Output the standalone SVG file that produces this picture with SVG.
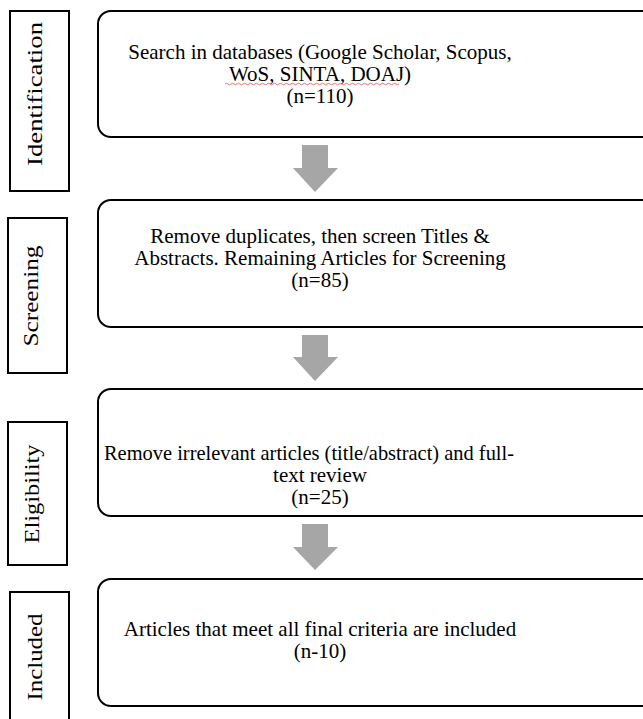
<svg xmlns="http://www.w3.org/2000/svg" width="643" height="719" viewBox="0 0 643 719" font-family="Liberation Serif, Times New Roman, serif">
<style>
.stage{fill:#fff;stroke:#000;stroke-width:2}
.box{fill:#fff;stroke:#000;stroke-width:2}
text{font-family:"Liberation Serif",serif;font-size:21px;fill:#000;text-anchor:middle}
.arr{fill:#a6a6a6}
</style>
<rect width="643" height="719" fill="#fff"/>
<g id="stage-identification">
<rect class="stage" x="10" y="11" width="59" height="180"/>
<text transform="translate(42,94) rotate(-90)" textLength="144" lengthAdjust="spacingAndGlyphs">Identification</text>
</g>
<g id="stage-screening">
<rect class="stage" x="8" y="218" width="59" height="155"/>
<text transform="translate(38,296) rotate(-90)" textLength="101" lengthAdjust="spacingAndGlyphs">Screening</text>
</g>
<g id="stage-eligibility">
<rect class="stage" x="8" y="422" width="59" height="143"/>
<text transform="translate(39,494) rotate(-90)" textLength="99" lengthAdjust="spacingAndGlyphs">Eligibility</text>
</g>
<g id="stage-included">
<rect class="stage" x="10" y="592" width="59" height="140"/>
<text transform="translate(42,657) rotate(-90)" textLength="87" lengthAdjust="spacingAndGlyphs">Included</text>
</g>
<g id="box-search">
<rect class="box" x="98" y="11" width="580" height="126" rx="13"/>
<text x="320" y="59">Search in databases (Google Scholar, Scopus,</text>
<text x="320" y="81">WoS, SINTA, DOAJ)</text>
<text x="320" y="103">(n=110)</text>
<path d="M225,84 q1.5,-1.5 3,0 t3,0 t3,0 t3,0 t3,0 t3,0 t3,0 t3,0 t3,0 t3,0 t3,0 t3,0 t3,0 t3,0 t3,0 t3,0 t3,0 t3,0 t3,0 t3,0 t3,0 t3,0 t3,0 t3,0 t3,0 t3,0 t3,0 t3,0 t3,0 t3,0 t3,0 t3,0 t3,0 t3,0 t3,0 t3,0 t3,0 t3,0 t3,0 t3,0 t3,0 t3,0 t3,0 t3,0 t3,0 t3,0 t3,0 t3,0 t3,0 t3,0 t3,0 t3,0 t3,0 t3,0 t3,0 t3,0 t3,0 t3,0" fill="none" stroke="#e05050" stroke-width="0.8"/>
</g>
<g id="box-screening">
<rect class="box" x="98" y="200" width="580" height="127" rx="13"/>
<text x="320" y="243">Remove duplicates, then screen Titles &amp;</text>
<text x="320" y="265">Abstracts. Remaining Articles for Screening</text>
<text x="320" y="287">(n=85)</text>
</g>
<g id="box-eligibility">
<rect class="box" x="98" y="389" width="580" height="127" rx="13"/>
<text x="309" y="460" textLength="410" lengthAdjust="spacingAndGlyphs">Remove irrelevant articles (title/abstract) and full-</text>
<text x="320" y="482">text review</text>
<text x="320" y="504">(n=25)</text>
</g>
<g id="box-included">
<rect class="box" x="98" y="579" width="580" height="127" rx="13"/>
<text x="320" y="636">Articles that meet all final criteria are included</text>
<text x="320" y="658">(n-10)</text>
</g>
<g id="connectors">
<polygon class="arr" points="302,145 328,145 328,168 338,168 315,192 293,168 302,168"/>
<polygon class="arr" points="302,335 328,335 328,357 338,357 315,381 293,357 302,357"/>
<polygon class="arr" points="302,524 328,524 328,547 338,547 315,570 293,547 302,547"/>
</g>
</svg>
